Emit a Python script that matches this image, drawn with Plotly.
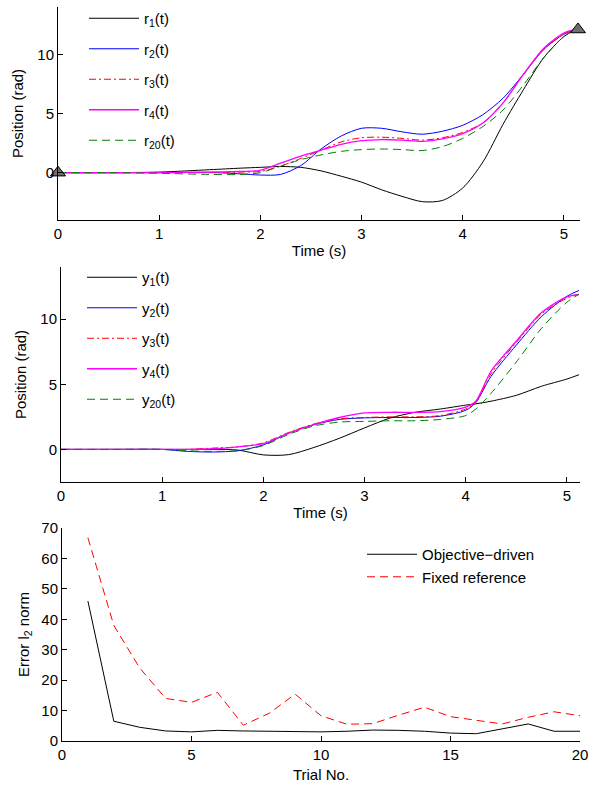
import plotly.graph_objects as go

# ---------------- data ----------------
t_ref = [0, 0.5, 1.0, 1.5, 1.8, 2.0, 2.2, 2.4, 2.6, 2.8, 3.0, 3.2, 3.4, 3.6, 3.8, 4.0, 4.2, 4.4, 4.6, 4.8, 5.0, 5.12]
r1 = [0, 0, 0.05, 0.25, 0.38, 0.45, 0.52, 0.45, 0.15, -0.3, -0.8, -1.45, -2.0, -2.45, -2.35, -1.3, 0.9, 4.1, 7.0, 9.7, 11.5, 12.1]
r2 = [0, 0, 0, 0.02, -0.1, -0.2, -0.15, 0.6, 2.0, 3.1, 3.75, 3.75, 3.45, 3.25, 3.5, 4.0, 4.9, 6.3, 8.3, 10.4, 11.7, 12.1]
r3 = [0, 0, 0, 0, 0.05, 0.1, 0.55, 1.2, 1.9, 2.6, 2.95, 3.0, 2.9, 2.75, 2.95, 3.4, 4.2, 5.9, 8.3, 10.4, 11.7, 12.1]
r4 = [0, 0, 0, 0.05, 0.1, 0.2, 0.8, 1.4, 1.9, 2.4, 2.7, 2.8, 2.75, 2.65, 2.85, 3.3, 4.2, 5.9, 8.3, 10.5, 11.8, 12.1]
r20 = [0, 0, -0.05, -0.15, -0.15, 0.0, 0.55, 1.1, 1.5, 1.8, 1.95, 2.0, 1.95, 1.87, 2.2, 2.9, 3.9, 5.3, 7.4, 9.7, 11.5, 12.1]
endpoints_t = [0, 5.14]
endpoints_v = [0, 12.1]

t_out = [0, 0.5, 1.0, 1.25, 1.5, 1.75, 2.0, 2.25, 2.5, 2.75, 3.0, 3.25, 3.5, 3.75, 4.0, 4.1, 4.25, 4.5, 4.75, 5.0, 5.12]
y1 = [0, 0, 0, 0, 0, -0.05, -0.42, -0.4, 0.15, 0.85, 1.65, 2.4, 2.85, 3.1, 3.4, 3.5, 3.7, 4.15, 4.85, 5.4, 5.73]
y2 = [0, 0, 0, -0.15, -0.2, -0.1, 0.35, 1.25, 1.9, 2.3, 2.42, 2.45, 2.45, 2.55, 3.0, 3.6, 5.6, 8.0, 10.2, 11.75, 12.2]
y3 = [0, 0, 0, 0, 0.1, 0.2, 0.5, 1.3, 1.95, 2.35, 2.45, 2.5, 2.5, 2.6, 3.1, 3.6, 5.8, 8.2, 10.4, 11.6, 11.9]
y4 = [0, 0, 0, 0, 0.05, 0.2, 0.45, 1.25, 1.9, 2.45, 2.8, 2.85, 2.85, 2.9, 3.25, 3.7, 6.0, 8.3, 10.5, 11.7, 11.9]
y20 = [0, 0, 0, -0.1, -0.15, -0.1, 0.3, 1.15, 1.8, 2.1, 2.15, 2.2, 2.2, 2.3, 2.6, 3.1, 4.3, 6.7, 9.3, 11.3, 11.9]

trials = list(range(1, 21))
objective_driven = [46, 6.5, 4.5, 3.3, 3.0, 3.5, 3.3, 3.2, 2.9, 3.0, 3.2, 3.6, 3.5, 3.2, 2.6, 2.4, 4.0, 5.6, 3.2, 3.2]
fixed_reference = [66.8, 38, 24, 14, 12.7, 16, 5.2, 9.1, 15.4, 8.3, 5.5, 5.7, 8.5, 11.1, 8.0, 6.7, 5.6, 7.8, 9.6, 8.3]

top_labels = ["r<sub>1</sub>(t)", "r<sub>2</sub>(t)", "r<sub>3</sub>(t)", "r<sub>4</sub>(t)", "r<sub>20</sub>(t)"]
mid_labels = ["y<sub>1</sub>(t)", "y<sub>2</sub>(t)", "y<sub>3</sub>(t)", "y<sub>4</sub>(t)", "y<sub>20</sub>(t)"]
bottom_labels = ["Objective\u2212driven", "Fixed reference"]

# ---------------- styles ----------------
styles = [
    dict(color="black", width=1, dash="solid"),
    dict(color="#0000ff", width=1, dash="solid"),
    dict(color="#ff0000", width=1, dash="7px,3px,2px,3px"),
    dict(color="#ff00ff", width=1.3, dash="solid"),
    dict(color="#008000", width=1, dash="8px,5px"),
]

W, H = 589, 788
FONT = "Liberation Sans, Arial, Helvetica, sans-serif"
FS = 15

fig = go.Figure()

top_series = [r1, r2, r3, r4, r20]
for i, (s, lab) in enumerate(zip(top_series, top_labels)):
    fig.add_trace(go.Scatter(x=t_ref, y=s, mode="lines", name=lab, line=dict(shape="spline", smoothing=0.8, **styles[i]),
                             xaxis="x", yaxis="y", legend="legend", legendgroup="a%d" % i))
fig.add_trace(go.Scatter(x=endpoints_t, y=endpoints_v, mode="markers", showlegend=False, cliponaxis=False,
                         marker=dict(symbol="triangle-up", size=13, color="#6e6e6e", line=dict(color="black", width=1)),
                         xaxis="x", yaxis="y"))

mid_series = [y1, y2, y3, y4, y20]
for i, (s, lab) in enumerate(zip(mid_series, mid_labels)):
    fig.add_trace(go.Scatter(x=t_out, y=s, mode="lines", name=lab, line=dict(shape="spline", smoothing=0.8, **styles[i]),
                             xaxis="x2", yaxis="y2", legend="legend2", legendgroup="b%d" % i))

fig.add_trace(go.Scatter(x=trials, y=objective_driven, mode="lines", name=bottom_labels[0],
                         line=dict(color="black", width=1), xaxis="x3", yaxis="y3", legend="legend3", legendgroup="c0"))
fig.add_trace(go.Scatter(x=trials, y=fixed_reference, mode="lines", name=bottom_labels[1],
                         line=dict(color="#ff0000", width=1, dash="8px,5px"), xaxis="x3", yaxis="y3", legend="legend3", legendgroup="c1"))


def px_x(a, b):
    return [a / W, b / W]


def px_y(top, bottom):
    return [1 - bottom / H, 1 - top / H]


axis_common = dict(showline=True, linecolor="black", linewidth=1, ticks="inside", ticklen=5, tickcolor="black",
                   showgrid=False, zeroline=False, tickfont=dict(size=FS, color="black", family=FONT),
                   mirror=False, automargin=False)

fig.update_layout(
    template="none",
    width=W, height=H, margin=dict(l=0, r=0, t=0, b=0, autoexpand=False),
    paper_bgcolor="white", plot_bgcolor="white",
    font=dict(family=FONT, size=FS, color="black"),
    xaxis=dict(domain=px_x(58, 580), anchor="y", range=[0, 5.16], tickvals=[0, 1, 2, 3, 4, 5],
               title=dict(text="Time (s)", standoff=4, font=dict(size=FS)), **axis_common),
    yaxis=dict(domain=px_y(7, 220), anchor="x", range=[-4, 14], tickvals=[0, 5, 10],
               title=dict(text="Position (rad)", standoff=10, font=dict(size=FS)), **axis_common),
    xaxis2=dict(domain=px_x(61, 580), anchor="y2", range=[0, 5.13], tickvals=[0, 1, 2, 3, 4, 5],
                title=dict(text="Time (s)", standoff=4, font=dict(size=FS)), **axis_common),
    yaxis2=dict(domain=px_y(267, 482), anchor="x2", range=[-2.5, 14], tickvals=[0, 5, 10],
                title=dict(text="Position (rad)", standoff=10, font=dict(size=FS)), **axis_common),
    xaxis3=dict(domain=px_x(62, 580), anchor="y3", range=[0, 20], tickvals=[0, 5, 10, 15, 20],
                title=dict(text="Trial No.", standoff=7, font=dict(size=FS)), **axis_common),
    yaxis3=dict(domain=px_y(528, 741), anchor="x3", range=[0, 70], tickvals=[0, 10, 20, 30, 40, 50, 60, 70],
                title=dict(text="Error l<sub>2</sub> norm", standoff=8, font=dict(size=FS)), **axis_common),
    legend=dict(x=84 / W, y=1 - 2 / H, xanchor="left", yanchor="top", bgcolor="rgba(0,0,0,0)",
                tracegroupgap=8, itemwidth=50, font=dict(size=FS, family=FONT)),
    legend2=dict(x=82 / W, y=1 - 261 / H, xanchor="left", yanchor="top", bgcolor="rgba(0,0,0,0)",
                 tracegroupgap=8, itemwidth=50, font=dict(size=FS, family=FONT)),
    legend3=dict(x=362 / W, y=1 - 538 / H, xanchor="left", yanchor="top", bgcolor="rgba(0,0,0,0)",
                 tracegroupgap=0, itemwidth=50, font=dict(size=FS, family=FONT)),
)

fig.write_html("out.html", config={"displayModeBar": False},
               post_script="document.body.style.margin='0';document.body.style.overflow='hidden';")
